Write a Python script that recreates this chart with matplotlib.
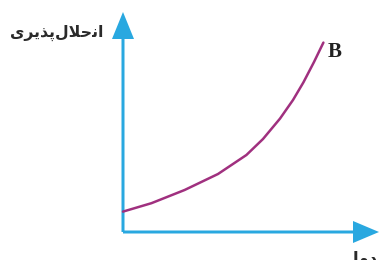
import numpy as np
import matplotlib.pyplot as plt

# curve B (temperature vs solubility, arbitrary units)
temp = [0, 1.42, 3.08, 4.75, 6.17, 7.0, 7.85, 8.5, 9.02, 9.55, 10.02]
solub = [1.02, 1.44, 2.1, 2.9, 3.85, 4.65, 5.67, 6.6, 7.48, 8.5, 9.47]

# labels (Arabic presentation forms, visual order, since matplotlib does no shaping)
y_label = "\uFBFC\uFEAE\uFBFE\uFEAC\uFB58\uFEDD\uFEFC\uFEA3\uFEE7\uFE8D"  # انحلال‌پذیری
x_label = "\uFE8E\uFEE3\uFEA9"  # دما
curve_label = "B"

axis_blue = "#29a8e0"
curve_purple = "#a0307f"

fig = plt.figure(figsize=(3.79, 2.60), dpi=100)
ax = fig.add_axes([0, 0, 1, 1])
ax.set_xlim(-6.15, 12.8)
ax.set_ylim(-1.4, 11.6)
ax.axis("off")

# axes with arrow heads
ax.arrow(0, 0, 0, 11.0, width=0.15, head_width=1.1, head_length=1.35,
         length_includes_head=True, color=axis_blue, lw=0)
ax.arrow(0, 0, 12.8, 0, width=0.15, head_width=1.1, head_length=1.3,
         length_includes_head=True, color=axis_blue, lw=0)

ax.plot(temp, solub, color=curve_purple, lw=1.8, solid_capstyle="round",
        solid_joinstyle="round")

ax.text(10.6, 9.0, curve_label, fontsize=15, fontweight="bold",
        family="Liberation Serif", ha="center", va="center", color="#222222")
ax.text(-1.0, 9.95, y_label, fontsize=11.3, fontweight="bold",
        family="DejaVu Sans", ha="right", va="center", color="#2a2a2a")
ax.text(12.75, -0.85, x_label, fontsize=12, fontweight="bold",
        family="DejaVu Sans", ha="right", va="top", color="#2a2a2a")

fig.savefig("out.png", dpi=100)
